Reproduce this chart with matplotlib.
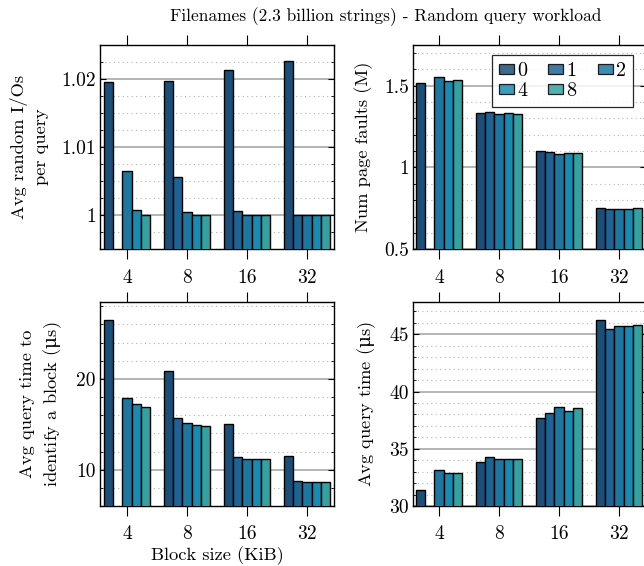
import numpy as np
import matplotlib
matplotlib.use("Agg")
import matplotlib.pyplot as plt
from matplotlib.patches import Patch
from matplotlib.ticker import MultipleLocator, FuncFormatter

plt.rcParams['font.family'] = ['cmr10', 'DejaVu Serif']
plt.rcParams['mathtext.fontset'] = 'custom'
plt.rcParams['mathtext.rm'] = 'DejaVu Serif'
plt.rcParams['axes.unicode_minus'] = False

block_sizes = ["4", "8", "16", "32"]
series = ["0", "1", "2", "4", "8"]
colors = ["#1b4f78", "#1f6395", "#1d77a0", "#1a8bb0", "#35a0a0"]

# rows: series, columns: block sizes
random_ios = [
    [1.0196, 1.01975, 1.02128, 1.0226],
    [np.nan, 1.00559, 1.00064, 1.0],
    [1.00643, 1.00054, 1.0, 1.0],
    [1.00083, 1.0, 1.0, 1.0],
    [1.0, 1.0, 1.0, 1.0],
]
page_faults = [
    [1.516, 1.331, 1.100, 0.755],
    [np.nan, 1.341, 1.093, 0.745],
    [1.551, 1.327, 1.085, 0.745],
    [1.529, 1.333, 1.089, 0.746],
    [1.532, 1.329, 1.089, 0.752],
]
block_time = [
    [26.47, 20.88, 15.07, 11.50],
    [np.nan, 15.74, 11.43, 8.71],
    [17.90, 15.15, 11.21, 8.64],
    [17.24, 14.89, 11.21, 8.64],
    [16.88, 14.78, 11.21, 8.64],
]
query_time = [
    [31.44, 33.83, 37.65, 46.22],
    [np.nan, 34.30, 38.09, 45.50],
    [33.13, 34.15, 38.64, 45.73],
    [32.87, 34.15, 38.32, 45.70],
    [32.90, 34.15, 38.53, 45.79],
]

W, H = 644, 566
fig = plt.figure(figsize=(W / 100, H / 100), dpi=100)


def make_ax(x0, x1, ytop, ybot):
    return fig.add_axes([x0 / W, 1 - ybot / H, (x1 - x0) / W, (ybot - ytop) / H])


ax_tl = make_ax(100, 334, 44.7, 249.3)
ax_tr = make_ax(413, 646, 44.7, 249.3)
ax_bl = make_ax(100, 334, 301.7, 506)
ax_br = make_ax(413, 646, 301.7, 506)

bw = 0.155
x = np.arange(len(block_sizes))
fmt = FuncFormatter(lambda v, p: f"{v:g}")
MU = r"$\mathrm{\mu}$"


def draw(ax, data, ylim, major, minor, ylabel, xmin=-0.45, labelpad=9):
    for i, s in enumerate(series):
        ax.bar(x + (i - 2) * bw, data[i], width=bw, color=colors[i],
               edgecolor="black", linewidth=1.0, zorder=3)
    ax.set_xlim(xmin, 3.45)
    ax.set_ylim(*ylim)
    ax.set_xticks(x)
    ax.set_xticklabels(block_sizes)
    ax.yaxis.set_major_locator(MultipleLocator(major))
    ax.yaxis.set_minor_locator(MultipleLocator(minor))
    ax.yaxis.set_major_formatter(fmt)
    ax.grid(True, which="major", axis="y", color="#a0a0a0", linewidth=1.1, zorder=0)
    ax.grid(True, which="minor", axis="y", color="#b4b4b4", linewidth=0.8,
            linestyle=(0, (1, 3)), zorder=0)
    ax.tick_params(axis="x", which="both", direction="out", top=True, bottom=True,
                   length=7, width=0.8, labelsize=14, pad=7)
    ax.tick_params(axis="y", which="major", direction="in", left=True, right=True,
                   length=4, width=0.8, labelsize=14, pad=3)
    ax.tick_params(axis="y", which="minor", direction="in", left=True, right=True,
                   length=2, width=0.6)
    for sp in ax.spines.values():
        sp.set_linewidth(1.0)
    ax.set_ylabel(ylabel, fontsize=13.3, linespacing=1.4, labelpad=labelpad)


draw(ax_tl, random_ios, (0.995, 1.025), 0.01, 0.0025, "Avg random I/Os\nper query")
draw(ax_tr, page_faults, (0.5, 1.75), 0.5, 0.1, "Num page faults (M)",
     xmin=-0.433, labelpad=8)
draw(ax_bl, block_time, (6, 28.5), 10, 2,
     "Avg query time to\nidentify a block (" + MU + "s)")
draw(ax_br, query_time, (30, 47.85), 5, 1, "Avg query time (" + MU + "s)",
     xmin=-0.433, labelpad=8)

ax_bl.set_xlabel("Block size (KiB)", fontsize=13.3, labelpad=2)

handles = [Patch(facecolor=c, edgecolor="black", linewidth=0.9, alpha=0.85) for c in colors]
order = [0, 3, 1, 4, 2]
leg = ax_tr.legend([handles[i] for i in order], [series[i] for i in order],
                   ncol=3, loc="upper right",
                   bbox_to_anchor=(0.944, 0.95), borderaxespad=0.0,
                   fontsize=14.5, frameon=True,
                   fancybox=False, edgecolor="black", framealpha=0.85,
                   handlelength=0.75, handleheight=0.4, handletextpad=0.15,
                   columnspacing=1.05, labelspacing=0.12, borderpad=0.35)
leg.get_frame().set_linewidth(0.9)

fig.text(386 / W, 1 - 17 / H, "Filenames (2.3 billion strings) - Random query workload",
         ha="center", va="center", fontsize=12.5)

fig.savefig("out.png", dpi=100)
